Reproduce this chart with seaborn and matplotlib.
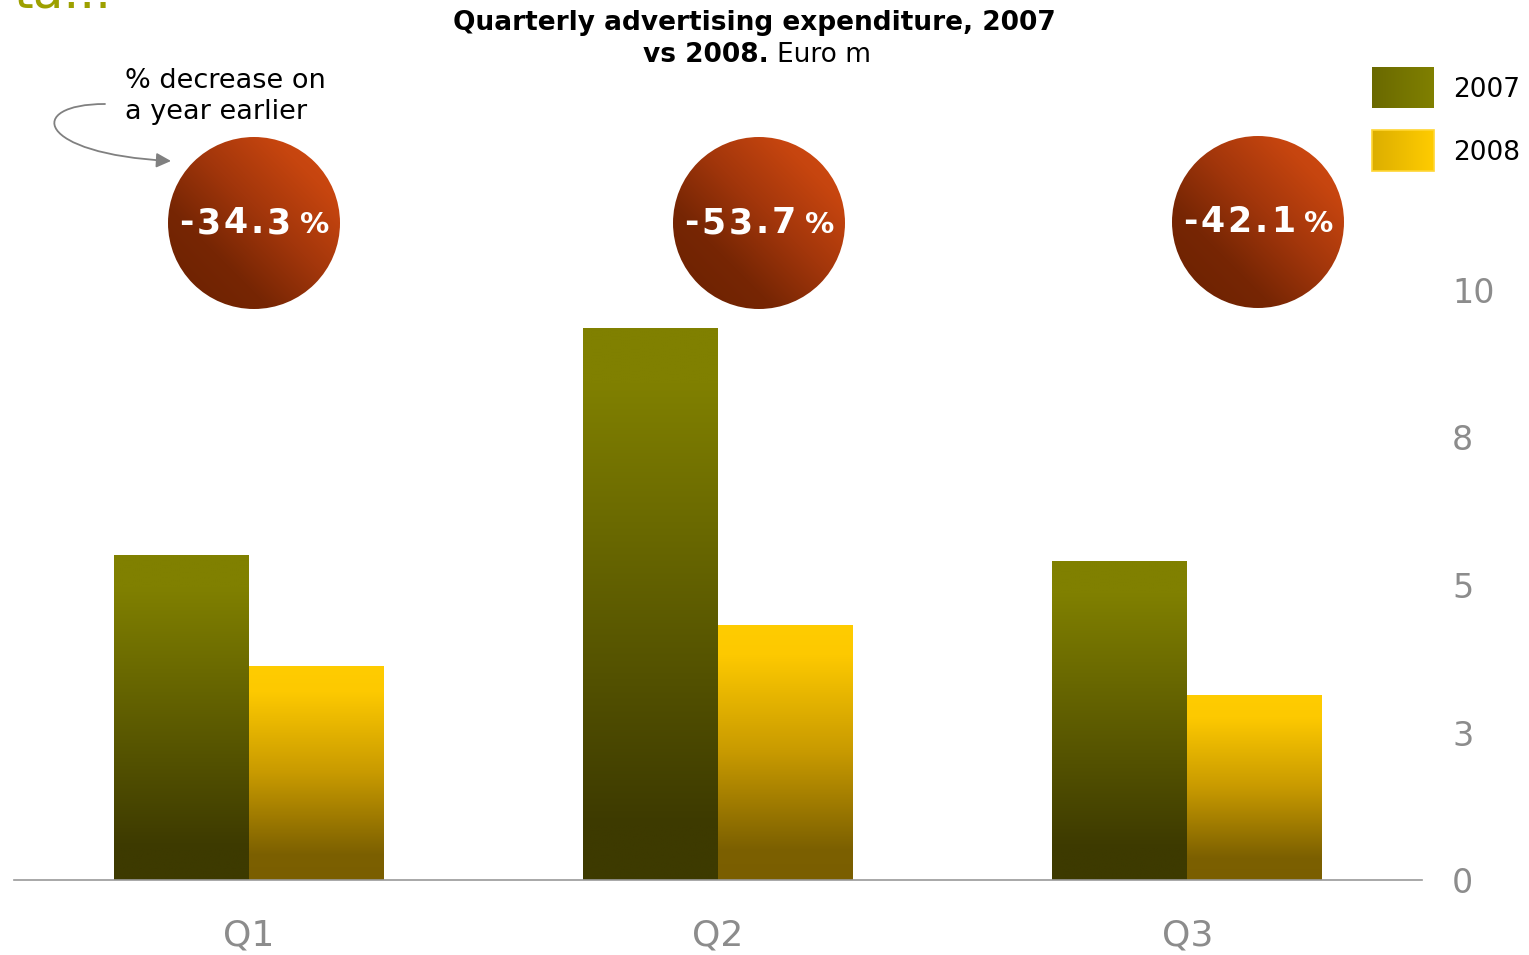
import numpy as np
import pandas as pd
import matplotlib
matplotlib.use("Agg")
import matplotlib.pyplot as plt
import seaborn as sns
from matplotlib.colors import LinearSegmentedColormap
from matplotlib.patches import Circle, Rectangle, FancyArrowPatch
from matplotlib.path import Path
from matplotlib.font_manager import FontProperties, findfont, get_font

# ---- data -------------------------------------------------------------
quarters = ["Q1", "Q2", "Q3"]
years = ["2007", "2008"]
spend_2007 = [5.50, 9.35, 5.40]
spend_2008 = [3.62, 4.33, 3.13]
pct_change = ["-34.3", "-53.7", "-42.1"]
ytick_values = [0, 2.5, 5, 7.5, 10]
ytick_labels = ["0", "3", "5", "8", "10"]

df = pd.DataFrame({
    "quarter": quarters * 2,
    "year": [years[0]] * len(quarters) + [years[1]] * len(quarters),
    "spend": spend_2007 + spend_2008,
})

sns.set_theme(style="white")
plt.rcParams["font.family"] = ["DejaVu Sans"]

W, H = 1529, 955
fig = plt.figure(figsize=(W / 100, H / 100), dpi=100)
fig.patch.set_facecolor("white")


def fx(px):
    return px / W


def fy(py):
    return 1 - py / H


# ---- bar chart --------------------------------------------------------
ax = fig.add_axes([fx(14), fy(880), fx(1422) - fx(14), fy(280) - fy(880)])
sns.barplot(data=df, x="quarter", y="spend", hue="year", order=quarters,
            hue_order=years, palette=["#808000", "#ffcc00"], width=0.575,
            saturation=1, legend=False, errorbar=None, ax=ax)

bar_cmaps = {
    "2007": LinearSegmentedColormap.from_list(
        "olive", [(0, "#808000"), (0.1, "#808000"), (0.9, "#3d3a00"), (1, "#3d3a00")]),
    "2008": LinearSegmentedColormap.from_list(
        "gold", [(0, "#ffcc00"), (0.12, "#fdc900"), (0.5, "#c89a00"),
                 (0.88, "#7c6000"), (1, "#7a5e00")]),
}
vgrad = np.linspace(0, 1, 256).reshape(-1, 1)
for container, yr in zip(ax.containers, years):
    for bar in container:
        x0, w, h = bar.get_x(), bar.get_width(), bar.get_height()
        bar.set_facecolor("none")
        bar.set_edgecolor("none")
        im = ax.imshow(vgrad, cmap=bar_cmaps[yr], extent=[x0, x0 + w, 0, h],
                       aspect="auto", origin="upper", interpolation="bilinear",
                       zorder=2)
        im.set_clip_path(bar)

ax.set_xlim(-0.5, 2.5)
ax.set_ylim(0, 600 / 59)
ax.set_xlabel("")
ax.set_ylabel("")
for side in ["left", "right", "top"]:
    ax.spines[side].set_visible(False)
ax.spines["bottom"].set_color("#999999")
ax.spines["bottom"].set_linewidth(1.2)
ax.patch.set_visible(False)

ax.yaxis.tick_right()
ax.set_yticks(ytick_values)
ax.set_yticklabels(ytick_labels)
ax.tick_params(axis="y", length=0, pad=21.6, labelsize=24, labelcolor="#8c8c8c")
ax.tick_params(axis="x", length=0, pad=28, labelsize=26, labelcolor="#8c8c8c")

# ---- overlay in pixel coordinates for annotations ---------------------
ov = fig.add_axes([0, 0, 1, 1], zorder=5)
ov.set_xlim(0, W)
ov.set_ylim(H, 0)
ov.axis("off")
ov.patch.set_visible(False)

# heading fragment running off the top edge
ov.text(14, 7, "ta...", fontsize=36, color="#9da000", va="baseline", ha="left")

# title
ov.text(754, 30, "Quarterly advertising expenditure, 2007", ha="center",
        va="baseline", fontsize=19, fontweight="bold", color="black")
ov.text(769, 62, "vs 2008.", ha="right", va="baseline", fontsize=19,
        fontweight="bold", color="black")
ov.text(777, 62, "Euro m", ha="left", va="baseline", fontsize=19, color="black")

# legend with horizontal gradient swatches
hgrad = np.linspace(0, 1, 256).reshape(1, -1)
legend_cmaps = {
    "2007": LinearSegmentedColormap.from_list("l07", ["#6a6900", "#808000"]),
    "2008": LinearSegmentedColormap.from_list("l08", ["#dcae00", "#ffcc00"]),
}
for i, yr in enumerate(years):
    top = 67 + i * 63
    ov.imshow(hgrad, cmap=legend_cmaps[yr], extent=[1372, 1434, top + 41, top],
              aspect="auto", interpolation="bilinear", zorder=3)
    if yr == "2008":
        ov.add_patch(Rectangle((1372, top), 62, 41, fill=False,
                               edgecolor="#ffd633", linewidth=1.2, zorder=4))
    ov.text(1453, top + 30, yr, fontsize=19, va="baseline", ha="left", color="black")

# note with curved arrow
ov.text(125, 88, "% decrease on", fontsize=19.5, va="baseline", ha="left", color="black")
ov.text(125, 119, "a year earlier", fontsize=19.5, va="baseline", ha="left", color="black")
arrow_path = Path([(105, 104), (25, 104), (35, 154), (171, 161)],
                  [Path.MOVETO, Path.CURVE4, Path.CURVE4, Path.CURVE4])
ov.add_patch(FancyArrowPatch(path=arrow_path, arrowstyle="-|>", mutation_scale=22,
                             color="#808080", linewidth=1.3, zorder=4))

# percentage-change bubbles
circle_cmap = LinearSegmentedColormap.from_list(
    "rust", [(0, "#6a2100"), (0.3, "#772604"), (0.55, "#a2360b"),
             (0.8, "#c6450f"), (1, "#d44c12")])
n = 256
xx, yy = np.meshgrid(np.linspace(0, 1, n), np.linspace(0, 1, n))
dgrad = (xx + (1 - yy)) / 2

bold_fp = FontProperties(family="DejaVu Sans", weight="bold")
bold_font = get_font(findfont(bold_fp))


def advance(ch, size_pt):
    bold_font.set_size(size_pt, 100)
    g = bold_font.load_char(ord(ch))
    return g.linearHoriAdvance / 65536


def bubble_label(cx, base_y, value):
    parts = [(value, 25, 3.0), ("%", 21, 0.0)]
    gap = 6
    total = 0
    for k, (s, size, track) in enumerate(parts):
        total += sum(advance(c, size) + track for c in s)
        if k == 0:
            total += gap
    x = cx - total / 2
    for k, (s, size, track) in enumerate(parts):
        for c in s:
            ov.text(x, base_y, c, fontsize=size, fontweight="bold", color="white",
                    ha="left", va="baseline", zorder=6)
            x += advance(c, size) + track
        if k == 0:
            x += gap


centers = [(254, 223), (759, 223), (1258, 222)]
r = 86
for (cx, cy), pct in zip(centers, pct_change):
    circ = Circle((cx, cy), r, facecolor="none", edgecolor="none")
    ov.add_patch(circ)
    im = ov.imshow(dgrad, cmap=circle_cmap, extent=[cx - r, cx + r, cy + r, cy - r],
                   aspect="auto", interpolation="bilinear", zorder=5)
    im.set_clip_path(circ)
    bubble_label(cx, cy + 10, pct)

ov.set_xlim(0, W)
ov.set_ylim(H, 0)

fig.savefig("out.png", dpi=100, facecolor="white")
